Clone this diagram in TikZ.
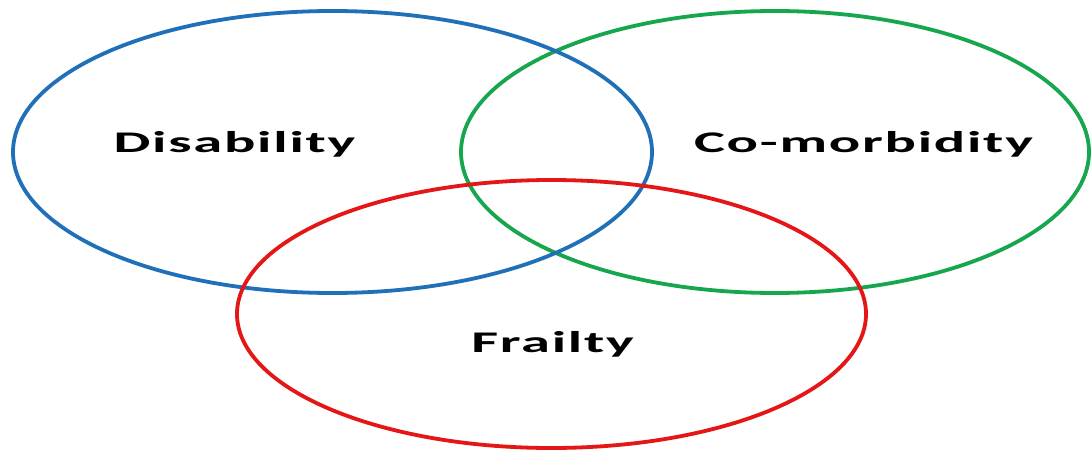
\documentclass[tikz,border=0pt]{standalone}
\usepackage{fontspec}
\newfontfamily\labfont[LetterSpace=3]{Carlito}
\definecolor{vblue}{RGB}{31,112,185}
\definecolor{vgreen}{RGB}{22,166,78}
\definecolor{vred}{RGB}{228,22,22}
\tikzset{
  ring/.style={line width=3.8pt},
  lab/.style={inner sep=0pt, anchor=base, font=\labfont\bfseries\fontsize{30}{30}\selectfont}
}
\newcommand{\wide}[1]{\scalebox{1.95}[1]{#1}}
\begin{document}
\begin{tikzpicture}[x=1pt,y=-1pt]
\useasboundingbox[fill=white] (0,0) rectangle (1092,452);
\coordinate (cb) at (332.5,152);
\coordinate (cg) at (775,152);
\coordinate (cr) at (551.5,314);
\draw[ring, vgreen] (cg) ellipse [x radius=314, y radius=141];
\draw[ring, vblue] (cb) ellipse [x radius=319.5, y radius=141];
\draw[ring, vred] (cr) ellipse [x radius=314.5, y radius=134];
\node[lab] (dis) at (234.5,152) {\wide{Disability}};
\node[lab] (com) at (863.5,152) {\wide{Co-morbidity}};
\node[lab] (fra) at (552.5,352) {\wide{Frailty}};
\end{tikzpicture}
\end{document}
